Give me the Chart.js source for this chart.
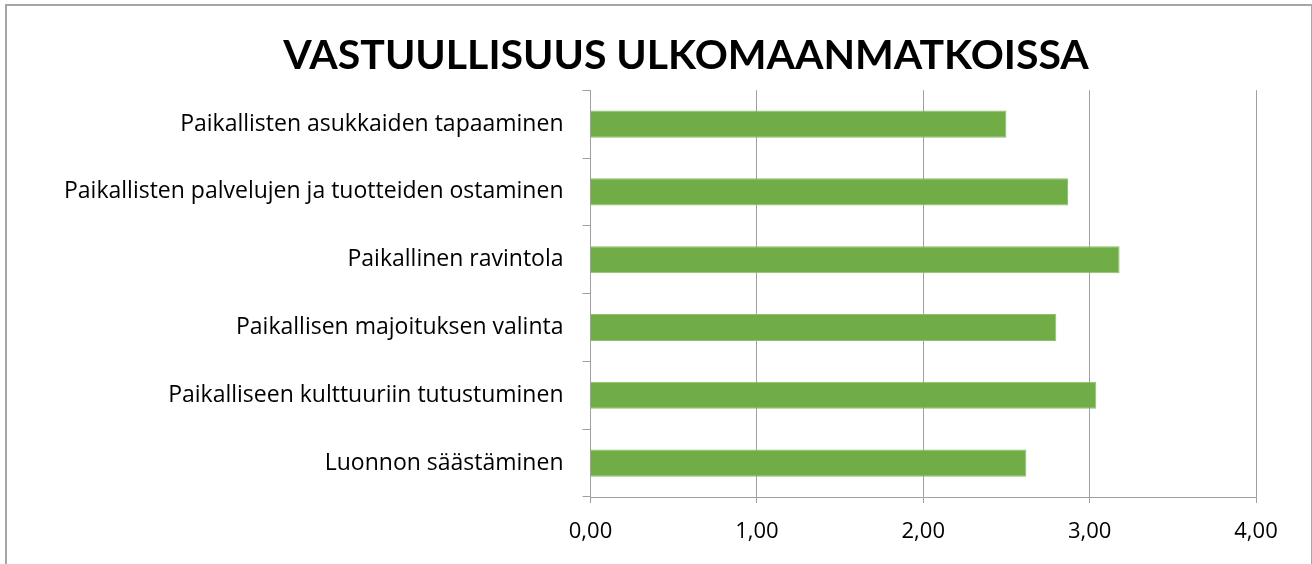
<!DOCTYPE html>
<html>
<head>
<meta charset="utf-8">
<script src="https://cdn.jsdelivr.net/npm/chart.js@4"></script>
<style>
	body { margin: 0; background: #fff; }
	#wrap { position: relative; width: 1312px; height: 564px; }
	#frame { position: absolute; left: 5px; top: 4px; width: 1304px; height: 570px; border: 2px solid #a6a6a6; }
	#chart { position: absolute; left: 0; top: 0; }
</style>
</head>
<body>
<div id="wrap">
	<div id="frame"></div>
	<canvas id="chart" width="1312" height="564"></canvas>
</div>
<script>
	var chartTitle = 'VASTUULLISUUS ULKOMAANMATKOISSA';
	var categories = [
		'Paikallisten asukkaiden tapaaminen',
		'Paikallisten palvelujen ja tuotteiden ostaminen',
		'Paikallinen ravintola',
		'Paikallisen majoituksen valinta',
		'Paikalliseen kulttuuriin tutustuminen',
		'Luonnon säästäminen'
	];
	var values = [2.50, 2.87, 3.18, 2.80, 3.04, 2.62];
	var xTicks = [0, 1, 2, 3, 4];

	var titleFont = 'Lato, "Open Sans", sans-serif';
	var labelFont = '"Open Sans", Lato, sans-serif';
	var gridColor = '#a0a0a0';

	var ctx = document.getElementById('chart');
	var chart = new Chart(ctx, {
		type: 'bar',
		data: {
			labels: categories,
			datasets: [{
				data: values,
				yAxisID: 'y',
				backgroundColor: '#70ad47',
				borderColor: '#8cc26a',
				borderWidth: 1,
				categoryPercentage: 0.8,
				barPercentage: 0.5
			}]
		},
		options: {
			indexAxis: 'y',
			responsive: false,
			animation: false,
			// title is centred between these paddings
			layout: { padding: { left: 60, right: 0, top: 0, bottom: 0 } },
			plugins: {
				legend: { display: false },
				tooltip: { enabled: false },
				title: {
					display: true,
					text: chartTitle,
					color: '#000',
					font: { family: titleFont, size: 41, weight: 'bold' },
					padding: { top: 31, bottom: 10 }
				}
			},
			scales: {
				x: {
					min: xTicks[0],
					max: xTicks[xTicks.length - 1],
					afterBuildTicks: function(scale) {
						scale.ticks = xTicks.map(function(v) { return { value: v }; });
					},
					afterFit: function(scale) { scale.height = 67; },
					grid: { color: gridColor, lineWidth: 1, tickLength: 6 },
					border: { color: gridColor, width: 1 },
					ticks: {
						color: '#000',
						padding: 16,
						font: { family: labelFont, size: 22 },
						callback: function(v) { return v.toFixed(2).replace('.', ','); }
					}
				},
				y: {
					afterFit: function(scale) { scale.width = 530.5; },
					grid: { drawOnChartArea: false, color: gridColor, tickLength: 8 },
					border: { color: gridColor, width: 1 },
					ticks: {
						color: '#000',
						padding: 19,
						font: { family: labelFont, size: 23 }
					}
				},
				// empty right-hand spacer so the plot ends where the reference does
				spacer: {
					axis: 'y',
					type: 'linear',
					position: 'right',
					afterFit: function(scale) { scale.width = 56; },
					grid: { display: false },
					border: { display: false },
					ticks: { display: false }
				}
			}
		}
	});
</script>
</body>
</html>
